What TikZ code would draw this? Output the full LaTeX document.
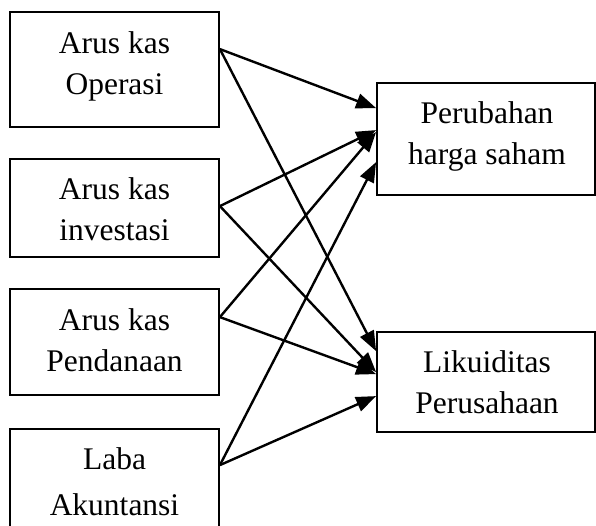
\documentclass[tikz,border=0pt]{standalone}
\usepackage{fontspec}
\setmainfont{Liberation Serif}
\usetikzlibrary{arrows.meta,calc}
\begin{document}
\begin{tikzpicture}[x=1pt,y=-1pt,
  box/.style={draw, line width=1.8pt, rectangle, inner sep=0pt},
  lbl/.style={font=\fontsize{31.5}{41}\selectfont, align=center, inner sep=0pt, anchor=base},
  conn/.style={line width=2.4pt, -{Triangle[length=20pt,width=15pt]}}]
\useasboundingbox (0,0) rectangle (596,525);
\clip (0,0) rectangle (596,525);
% left boxes
\node[box, minimum width=209pt, minimum height=115pt] (b1) at (114.5,69.5) {};
\node[box, minimum width=209pt, minimum height=98pt] (b2) at (114.5,208) {};
\node[box, minimum width=209pt, minimum height=106pt] (b3) at (114.5,342) {};
\node[box, minimum width=209pt, minimum height=120pt] (b4) at (114.5,489) {};
% right boxes
\node[box, minimum width=218pt, minimum height=112pt] (ra) at (486,139) {};
\node[box, minimum width=218pt, minimum height=100pt] (rb) at (486,382) {};
% labels (anchor = baseline of last line)
\node[lbl] (t1) at (114.5,94) {Arus kas\\Operasi};
\node[lbl] (t2) at (114.5,240) {Arus kas\\investasi};
\node[lbl] (t3) at (114.5,371) {Arus kas\\Pendanaan};
\node[lbl] (t4) at (114.5,515) {Laba\\[5pt]Akuntansi};
\node[lbl] (ta) at (487,164) {Perubahan\\harga saham};
\node[lbl] (tb) at (487,413) {Likuiditas\\Perusahaan};
% connector end points
\coordinate (s1) at ($(b1.north east)+(0,38)$);
\coordinate (s2) at ($(b2.north east)+(0,48)$);
\coordinate (s3) at ($(b3.north east)+(0,29)$);
\coordinate (s4) at ($(b4.north east)+(0,37)$);
\coordinate (a1) at ($(ra.north west)+(0,26)$);
\coordinate (a2) at ($(ra.north west)+(0,48)$);
\coordinate (a3) at ($(ra.north west)+(0,50)$);
\coordinate (a4) at ($(ra.north west)+(0,80)$);
\coordinate (c1) at ($(rb.north west)+(0,20)$);
\coordinate (c2) at ($(rb.north west)+(0,41)$);
\coordinate (c3) at ($(rb.north west)+(0,43)$);
\coordinate (c4) at ($(rb.north west)+(0,65)$);
\draw[conn] (s1) -- (a1);
\draw[conn] (s1) -- (c1);
\draw[conn] (s2) -- (a2);
\draw[conn] (s2) -- (c2);
\draw[conn] (s3) -- (a3);
\draw[conn] (s3) -- (c3);
\draw[conn] (s4) -- (a4);
\draw[conn] (s4) -- (c4);
\end{tikzpicture}
\end{document}
